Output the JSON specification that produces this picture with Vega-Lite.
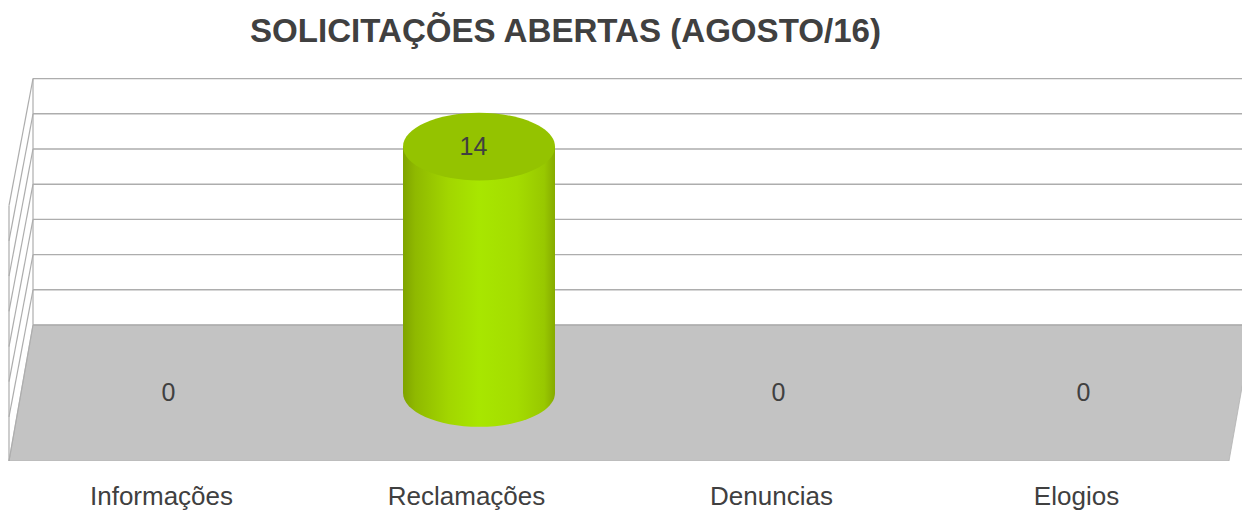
{"$schema":"https://vega.github.io/schema/vega-lite/v6.json","width":1242,"height":401,"autosize":{"type":"none"},"padding":{"left":0,"top":60,"right":0,"bottom":49},"background":"#ffffff","title":{"text":"SOLICITAÇÕES ABERTAS (AGOSTO/16)","font":"Liberation Sans","fontSize":33.1,"fontWeight":"bold","color":"#404040","anchor":"start","frame":"group","dx":250,"offset":11},"config":{"view":{"stroke":null}},"datasets":{"solicitacoes":[{"categoria":"Informações","valor":0},{"categoria":"Reclamações","valor":14},{"categoria":"Denuncias","valor":0},{"categoria":"Elogios","valor":0}],"piso":[{"v":-3.864,"u":0,"u2":4},{"v":3.864,"u":0.0787,"u2":4.0787}],"grade":[{"v":3.864,"nivel":0},{"v":5.864,"nivel":2},{"v":7.864,"nivel":4},{"v":9.864,"nivel":6},{"v":11.864,"nivel":8},{"v":13.864,"nivel":10},{"v":15.864,"nivel":12},{"v":17.864,"nivel":14}],"parede":[{"linha":"n0","u":0,"v":-3.864},{"linha":"n0","u":0.0787,"v":3.864},{"linha":"n2","u":0,"v":-1.36},{"linha":"n2","u":0.0787,"v":5.864},{"linha":"n4","u":0,"v":0.64},{"linha":"n4","u":0.0787,"v":7.864},{"linha":"n6","u":0,"v":2.64},{"linha":"n6","u":0.0787,"v":9.864},{"linha":"n8","u":0,"v":4.64},{"linha":"n8","u":0.0787,"v":11.864},{"linha":"n10","u":0,"v":6.64},{"linha":"n10","u":0.0787,"v":13.864},{"linha":"n12","u":0,"v":8.64},{"linha":"n12","u":0.0787,"v":15.864},{"linha":"n14","u":0,"v":10.64},{"linha":"n14","u":0.0787,"v":17.864},{"linha":"frente","u":0,"v":-3.864},{"linha":"frente","u":0,"v":10.64},{"linha":"fundo","u":0.0787,"v":3.864},{"linha":"fundo","u":0.0787,"v":17.864}]},"resolve":{"scale":{"x":"independent"}},"layer":[{"data":{"name":"piso"},"mark":{"type":"area","orient":"horizontal","color":"#c3c3c3","stroke":"#b3b3b3","strokeWidth":0.8,"clip":true},"encoding":{"y":{"field":"v","type":"quantitative","scale":{"domain":[-3.864,18.92],"nice":false,"zero":false},"axis":null},"x":{"field":"u","type":"quantitative","scale":{"domain":[-0.0295,4.0426],"nice":false,"zero":false},"axis":null},"x2":{"field":"u2"}}},{"data":{"name":"grade"},"mark":{"type":"rule","color":"#adadad","strokeWidth":1.4,"clip":true},"encoding":{"y":{"field":"v","type":"quantitative","axis":null},"x":{"datum":0.0787,"type":"quantitative","scale":{"domain":[-0.0295,4.0426],"nice":false,"zero":false},"axis":null},"x2":{"datum":4.0787}}},{"data":{"name":"parede"},"mark":{"type":"line","color":"#adadad","strokeWidth":1.2,"clip":true},"encoding":{"y":{"field":"v","type":"quantitative","axis":null},"x":{"field":"u","type":"quantitative","sort":null,"scale":{"domain":[-0.0295,4.0426],"nice":false,"zero":false},"axis":null},"detail":{"field":"linha"}}},{"data":{"name":"solicitacoes"},"mark":{"type":"bar","size":152,"xOffset":12.5,"fill":{"gradient":"linear","x1":0,"y1":0,"x2":1,"y2":0,"stops":[{"offset":0,"color":"#7fa300"},{"offset":0.08,"color":"#8fb900"},{"offset":0.3,"color":"#a2d600"},{"offset":0.5,"color":"#a8e600"},{"offset":0.75,"color":"#a4dc00"},{"offset":0.93,"color":"#98c800"},{"offset":1,"color":"#86ab00"}]}},"encoding":{"x":{"field":"categoria","type":"nominal","sort":null,"scale":{"type":"band","domain":["Informações","Reclamações","Denuncias","Elogios"],"range":[9,1229],"paddingInner":0,"paddingOuter":0},"axis":null},"y":{"field":"valor","type":"quantitative","axis":null},"y2":{"datum":0}}},{"data":{"name":"solicitacoes"},"transform":[{"filter":"datum.valor > 0"}],"mark":{"type":"point","filled":true,"opacity":1,"size":23104,"xOffset":12.5,"strokeWidth":0,"shape":"M -1 0 A 1 0.445 0 1 1 1 0 A 1 0.445 0 1 1 -1 0 Z","fill":{"gradient":"linear","x1":0,"y1":0,"x2":1,"y2":0,"stops":[{"offset":0,"color":"#7fa300"},{"offset":0.08,"color":"#8fb900"},{"offset":0.3,"color":"#a2d600"},{"offset":0.5,"color":"#a8e600"},{"offset":0.75,"color":"#a4dc00"},{"offset":0.93,"color":"#98c800"},{"offset":1,"color":"#86ab00"}]}},"encoding":{"x":{"field":"categoria","type":"nominal","sort":null,"scale":{"type":"band","domain":["Informações","Reclamações","Denuncias","Elogios"],"range":[9,1229],"paddingInner":0,"paddingOuter":0},"axis":null},"y":{"datum":0,"type":"quantitative","axis":null}}},{"data":{"name":"solicitacoes"},"transform":[{"filter":"datum.valor > 0"}],"mark":{"type":"point","filled":true,"opacity":1,"size":23104,"xOffset":12.5,"strokeWidth":0,"color":"#94c300","shape":"M -1 0 A 1 0.445 0 1 1 1 0 A 1 0.445 0 1 1 -1 0 Z"},"encoding":{"x":{"field":"categoria","type":"nominal","sort":null,"scale":{"type":"band","domain":["Informações","Reclamações","Denuncias","Elogios"],"range":[9,1229],"paddingInner":0,"paddingOuter":0},"axis":null},"y":{"field":"valor","type":"quantitative","axis":null}}},{"data":{"name":"solicitacoes"},"mark":{"type":"text","font":"Liberation Sans","fontSize":25,"color":"#404040","xOffset":7,"baseline":"middle"},"encoding":{"x":{"field":"categoria","type":"nominal","sort":null,"scale":{"type":"band","domain":["Informações","Reclamações","Denuncias","Elogios"],"range":[9,1229],"paddingInner":0,"paddingOuter":0},"axis":{"title":null,"orient":"bottom","domain":false,"ticks":false,"grid":false,"labelAngle":0,"labelFont":"Liberation Sans","labelFontSize":26,"labelColor":"#404040","labelPadding":22}},"y":{"field":"valor","type":"quantitative","axis":null},"text":{"field":"valor","type":"quantitative"}}}]}
